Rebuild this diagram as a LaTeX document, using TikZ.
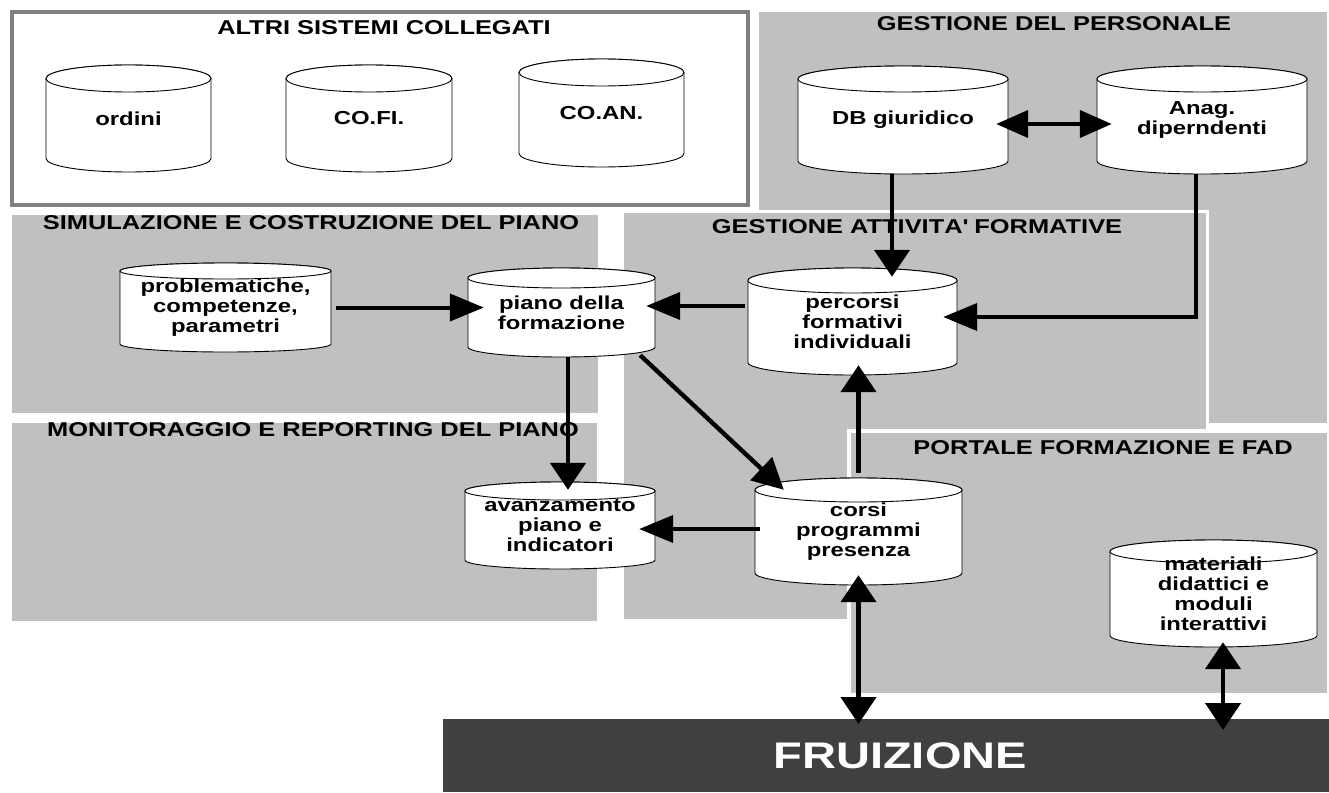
\documentclass[tikz,border=0pt]{standalone}
\usepackage{fontspec}
\setmainfont{Liberation Sans}[FakeStretch=1.27]
\usetikzlibrary{arrows.meta,calc}
\definecolor{regiongray}{RGB}{192,192,192}
\definecolor{boxgray}{RGB}{128,128,128}
\definecolor{bardark}{RGB}{64,64,64}
\tikzset{
  cylline/.style={draw=black, line width=0.9pt, fill=white},
  cyltext/.style={inner sep=0pt, align=center, font=\bfseries\fontsize{18.8}{20}\selectfont},
  regiontitle/.style={inner sep=0pt, font=\bfseries\fontsize{20}{24}\selectfont},
  region/.style={fill=regiongray},
  hl/.style={line width=4pt, -{Triangle[length=34pt,width=27pt]}},
  hlboth/.style={line width=4pt, {Triangle[length=32pt,width=27pt]}-{Triangle[length=32pt,width=27pt]}},
  vl/.style={line width=4.6pt, -{Triangle[length=27pt,width=35pt]}},
  vlboth/.style={line width=4.6pt, {Triangle[length=27pt,width=35pt]}-{Triangle[length=27pt,width=35pt]}},
  dl/.style={line width=4.4pt, -{Triangle[length=31pt,width=31pt]}},
}
% name, left, top, right, bottom, ry, text
\newcommand\dbcyl[7]{%
  \pgfmathsetmacro\cylcx{(#2+#4)/2}%
  \pgfmathsetmacro\cylrx{(#4-#2)/2}%
  \pgfmathsetmacro\cylcy{(#3+#5)/2}%
  \pgfmathsetmacro\cylh{#5-#3}%
  \pgfmathsetmacro\cylw{#4-#2}%
  \filldraw[cylline] (#2,#3+#6) -- (#2,#5-#6)
    arc[start angle=180,end angle=360,x radius=\cylrx pt,y radius=#6 pt]
    -- (#4,#3+#6)
    arc[start angle=0,end angle=180,x radius=\cylrx pt,y radius=#6 pt] -- cycle;
  \draw[cylline] (\cylcx,#3+#6) ellipse[x radius=\cylrx pt,y radius=#6 pt];
  \node[cyltext,minimum width=\cylw pt,minimum height=\cylh pt] (#1) at (\cylcx,\cylcy) {#7};
}
\begin{document}
\begin{tikzpicture}[x=1pt,y=-1pt]
\useasboundingbox (0,0) rectangle (1329,792);
\fill[white] (0,0) rectangle (1329,792);

% regions
\fill[region] (759,12) rectangle (1327,423);
\filldraw[region, draw=white, line width=3pt] (622,211.5) rectangle (1207.5,620);
\fill[region] (12,215) rectangle (598,413);
\fill[region] (12,423) rectangle (597,621);
\filldraw[region, draw=white, line width=4pt] (848.5,430.5) rectangle (1329,695);
\filldraw[fill=white, draw=boxgray, line width=4pt] (12,12) rectangle (748,205);

% region titles
\node[regiontitle] (tAltri) at (384,27.5) {ALTRI SISTEMI COLLEGATI};
\node[regiontitle] (tPers) at (1054,24) {GESTIONE DEL PERSONALE};
\node[regiontitle] (tSim) at (311,223) {SIMULAZIONE E COSTRUZIONE DEL PIANO};
\node[regiontitle] (tMon) at (313,430) {MONITORAGGIO E REPORTING DEL PIANO};
\node[regiontitle] (tAtt) at (917,227) {GESTIONE ATTIVIT\kern0ptA\textquotesingle{} FORMATIVE};
\node[regiontitle] (tPort) at (1103,448) {PORTALE FORMAZIONE E FAD};

% cylinders
\dbcyl{ordini}{46}{65}{211}{172}{13.5}{ordini}
\dbcyl{cofi}{286}{65}{452}{172}{13.5}{CO.FI.}
\dbcyl{coan}{519}{59}{684}{167}{13.5}{CO.AN.}
\dbcyl{dbg}{798}{66}{1008}{174}{13}{DB giuridico}
\dbcyl{anag}{1097}{66}{1307}{174}{13}{Anag.\\diperndenti}
\dbcyl{prob}{120}{263}{331}{352}{8}{problematiche,\\competenze,\\parametri}
\dbcyl{piano}{468}{268}{655}{357}{10}{piano della\\formazione}
\dbcyl{perc}{748}{268}{957}{375}{12.5}{percorsi\\formativi\\individuali}
\dbcyl{avanz}{465}{482}{655}{569}{9}{avanzamento\\piano e\\indicatori}
\dbcyl{corsi}{755}{478}{962}{585}{12}{corsi\\programmi\\presenza}
\dbcyl{mat}{1110}{540}{1317}{647}{11.5}{materiali\\didattici e\\moduli\\interattivi}

% FRUIZIONE bar
\node[fill=bardark, minimum width=886pt, minimum height=73pt, inner sep=0pt,
  anchor=north west, text=white, font=\bfseries\fontsize{37}{40}\selectfont]
  (fru) at (443,719) {\hspace*{28pt}FRUIZIONE};

% connectors
\draw[hlboth, shorten <=-12pt, shorten >=-15pt] ([yshift=-4pt]dbg.east) -- ([yshift=-4pt]anag.west);
\draw[vl, shorten >=-9pt] ([xshift=-11pt]dbg.south) -- ([xshift=-11pt]dbg.south |- perc.north);
\draw[hl, shorten >=-14pt] ([xshift=-6pt]anag.south) |- ([yshift=4.5pt]perc.east);
\draw[hl, shorten <=5pt, shorten >=-16pt] (prob.east) -- (prob.east -| piano.west);
\draw[hl, shorten <=3pt, shorten >=-9pt] ([yshift=15.5pt]perc.west) -- ([yshift=15.5pt]perc.west -| piano.east);
\draw[vl, shorten >=-8pt] ([xshift=6.5pt]piano.south) -- ([xshift=6.5pt]piano.south |- avanz.north);
\draw[dl] ([xshift=-15pt,yshift=2pt]piano.south east) -- ([xshift=29pt,yshift=-12pt]corsi.north west);
\draw[vl, shorten <=5pt, shorten >=-10pt] (corsi.north) -- (corsi.north |- perc.south);
\draw[hl, shorten <=-5pt, shorten >=-16pt] ([yshift=2.5pt]corsi.west) -- ([yshift=2.5pt]corsi.west -| avanz.east);
\draw[vlboth, shorten <=-10pt, shorten >=-5pt] (corsi.south) -- (corsi.south |- fru.north);
\draw[vlboth, shorten <=-5pt, shorten >=-11pt] ([xshift=9.5pt]mat.south) -- ([xshift=9.5pt]mat.south |- fru.north);
\end{tikzpicture}
\end{document}
